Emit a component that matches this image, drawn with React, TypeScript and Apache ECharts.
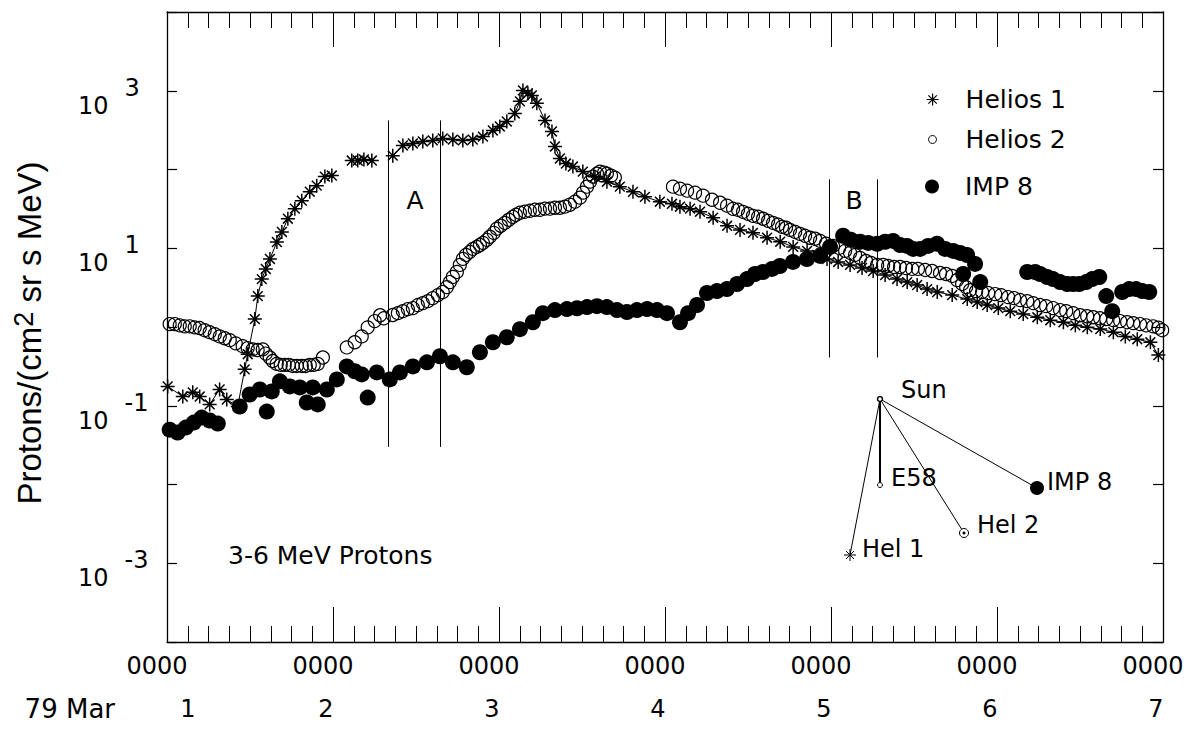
import React, { useEffect, useRef } from 'react';
import * as echarts from 'echarts';

// Days since 79 Mar 1 0000 (x) and proton flux (y)
const helios1Day = [
  1.004, 1.095, 1.155, 1.197, 1.257, 1.317, 1.36, 1.426, 1.468, 1.486, 1.529, 1.547, 1.571, 1.595, 1.62,
  1.662, 1.692, 1.728, 1.77, 1.812, 1.86, 1.902, 1.951, 1.993, 2.05,
  2.113, 2.149, 2.186, 2.234, 2.3,
  2.36, 2.421, 2.481, 2.541, 2.601, 2.661, 2.722, 2.782, 2.842, 2.903, 2.963, 3.005, 3.047, 3.095, 3.126,
  3.144, 3.174, 3.198, 3.228, 3.277, 3.319, 3.337, 3.367, 3.403, 3.445, 3.505, 3.578, 3.65, 3.728, 3.807,
  3.879, 3.969, 4.042, 4.09, 4.151, 4.211, 4.29, 4.374, 4.452, 4.53, 4.615, 4.694, 4.772, 4.856, 4.917,
  4.976, 5.043, 5.115, 5.187, 5.254, 5.326, 5.398, 5.459, 5.519, 5.579, 5.64, 5.73, 5.821, 5.881, 5.941,
  6.008, 6.08, 6.158, 6.243, 6.321, 6.4, 6.472, 6.544, 6.622, 6.701, 6.773, 6.845, 6.924, 6.972,
];
const helios1Flux: (number | null)[] = [
  0.176, 0.131, 0.148, 0.131, 0.104, 0.161, 0.12, 0.098, 0.29, 0.451, 1.26, 2.47, 4.06, 5.46, 7.31,
  12.0, 16.1, 23.7, 31.8, 40.2, 52.2, 62.4, 81.3, 83.8, null,
  130, 130, 134, 130, null,
  150, 202, 214, 227, 234, 248, 240, 234, 240, 262, 313, 352, 407, 515, 733,
  1010, 927, 873, 692, 420, 304, 196, 138, 119, 109, 94, 81, 70, 60.5, 52,
  45, 39, 36.7, 33.7, 31.8, 29.1, 24.4, 19.3, 17.1, 15.7, 13.6, 12.1, 10.4, 9.25, 8.22,
  7.31, 6.7, 6.14, 5.62, 5.14, 4.57, 4.07, 3.72, 3.41, 3.03, 2.78, 2.54, 2.26, 2.07, 1.9,
  1.74, 1.59, 1.46, 1.33, 1.22, 1.15, 1.05, 0.99, 0.94, 0.86, 0.76, 0.7, 0.64, 0.44,
];

const helios2Day = [
  1.016, 1.047, 1.077, 1.107, 1.137, 1.167, 1.197, 1.227, 1.257, 1.288, 1.318, 1.348, 1.378, 1.414, 1.456,
  1.486, 1.516, 1.546, 1.577, 1.595, 1.619, 1.637, 1.661, 1.685, 1.709, 1.733, 1.757, 1.782, 1.812, 1.836,
  1.86, 1.884, 1.908, 1.939,
  2.083, 2.131, 2.173, 2.209, 2.251, 2.284, 2.306, 2.36, 2.391, 2.421, 2.451, 2.481, 2.511, 2.541, 2.571,
  2.601, 2.632, 2.661, 2.686, 2.704, 2.722, 2.746, 2.764, 2.782, 2.801, 2.824, 2.843, 2.866, 2.885, 2.903,
  2.927, 2.945, 2.969, 2.987, 3.011, 3.035, 3.059, 3.083, 3.102, 3.126, 3.156, 3.186, 3.216, 3.246, 3.277,
  3.307, 3.337, 3.367, 3.397, 3.427, 3.458, 3.488, 3.506, 3.53, 3.548, 3.566, 3.59, 3.608, 3.633, 3.65,
  3.675, 3.698,
  4.048, 4.09, 4.133, 4.181, 4.229, 4.283, 4.332, 4.374, 4.41, 4.44, 4.47, 4.5, 4.53, 4.561, 4.591,
  4.621, 4.651, 4.681, 4.705, 4.729, 4.753, 4.784, 4.813, 4.844, 4.874, 4.904, 4.934, 4.97, 5.012, 5.049,
  5.085, 5.115, 5.145, 5.175, 5.211, 5.241, 5.278, 5.314, 5.344, 5.38, 5.416, 5.452, 5.489, 5.524, 5.567,
  5.609, 5.657, 5.693, 5.73, 5.76, 5.79, 5.814, 5.838, 5.874, 5.91, 5.947, 5.989, 6.025, 6.067, 6.103,
  6.139, 6.182, 6.218, 6.26, 6.296, 6.338, 6.38, 6.417, 6.459, 6.501, 6.543, 6.58, 6.621, 6.658, 6.7,
  6.742, 6.784, 6.821, 6.862, 6.899, 6.941, 6.972, 6.995,
];
const helios2Flux = [
  1.09, 1.09, 1.05, 1.02, 1.02, 0.99, 0.97, 0.91, 0.86, 0.81, 0.76, 0.72, 0.68, 0.62, 0.57,
  0.54, 0.52, 0.51, 0.52, 0.46, 0.41, 0.37, 0.34, 0.33, 0.33, 0.33, 0.32, 0.32, 0.32, 0.32,
  0.33, 0.33, 0.34, 0.41,
  0.55, 0.64, 0.76, 0.99, 1.19, 1.41, 1.29, 1.42, 1.5, 1.59, 1.69, 1.74, 1.9, 2.01, 2.13,
  2.33, 2.54, 2.78, 3.21, 3.72, 4.32, 5.0, 6.14, 7.33, 8.22, 9.0, 9.82, 10.4, 11.0, 11.7,
  12.8, 14.0, 15.7, 17.7, 19.3, 21.0, 23.0, 25.1, 26.6, 28.2, 29.1, 29.9, 30.8, 30.8, 31.8,
  31.8, 32.7, 32.7, 33.7, 35.7, 39.0, 43.9, 50.8, 60.5, 70.1, 81.3, 88.7, 94.0, 91.4, 88.7,
  83.6, 78.9,
  60.5, 57.1, 53.8, 50.8, 46.5, 41.3, 37.8, 34.7, 31.7, 30.8, 29.0, 27.4, 25.8, 25.1, 23.7,
  22.3, 21.0, 19.9, 18.7, 18.2, 17.1, 16.1, 15.2, 14.4, 13.6, 13.2, 12.4, 11.4, 10.7, 10.1,
  9.25, 8.71, 8.22, 7.53, 6.89, 6.5, 6.14, 6.14, 5.96, 5.78, 5.78, 5.61, 5.46, 5.46, 5.3,
  5.14, 4.85, 4.71, 4.45, 3.95, 3.52, 3.21, 2.94, 2.86, 2.78, 2.7, 2.62, 2.54, 2.4, 2.33,
  2.2, 2.13, 2.01, 1.9, 1.84, 1.74, 1.64, 1.59, 1.5, 1.41, 1.37, 1.33, 1.29, 1.26, 1.22,
  1.19, 1.15, 1.12, 1.09, 1.05, 1.02, 0.98, 0.91,
];

const imp8Day = [
  1.016, 1.064, 1.113, 1.161, 1.209, 1.257, 1.306, 1.438, 1.498, 1.559, 1.601, 1.631, 1.68, 1.74, 1.8,
  1.842, 1.878, 1.908, 1.963, 2.023, 2.083, 2.131, 2.173, 2.209, 2.264, 2.342, 2.403, 2.481, 2.566, 2.644,
  2.722, 2.806, 2.885, 2.963, 3.047, 3.126, 3.204, 3.264, 3.337, 3.409, 3.47, 3.53, 3.59, 3.65, 3.711,
  3.771, 3.831, 3.892, 3.952, 4.012, 4.09, 4.139, 4.193, 4.253, 4.313, 4.373, 4.434, 4.494, 4.542, 4.59,
  4.645, 4.692, 4.771, 4.855, 4.934, 4.994, 5.073, 5.121, 5.175, 5.224, 5.278, 5.326, 5.374, 5.416, 5.458,
  5.495, 5.537, 5.585, 5.639, 5.687, 5.736, 5.778, 5.82, 5.796, 5.868, 5.899,
  6.182, 6.23, 6.26, 6.302, 6.338, 6.38, 6.423, 6.459, 6.495, 6.537, 6.573, 6.616, 6.658, 6.694, 6.754,
  6.796, 6.838, 6.875, 6.917,
];
const imp8Flux = [
  0.0497, 0.0456, 0.0528, 0.0611, 0.0708, 0.0649, 0.0594, 0.0977, 0.139, 0.161, 0.0843, 0.152, 0.204, 0.176, 0.171,
  0.11, 0.171, 0.104, 0.161, 0.216, 0.316, 0.274, 0.25, 0.127, 0.265, 0.216, 0.265, 0.316, 0.356, 0.425,
  0.356, 0.308, 0.478, 0.64, 0.741, 0.938, 1.15, 1.5, 1.64, 1.69, 1.73, 1.79, 1.84, 1.79, 1.64,
  1.55, 1.64, 1.69, 1.64, 1.5, 1.15, 1.5, 1.9, 2.7, 2.86, 3.03, 3.52, 4.06, 4.71, 5.0,
  5.46, 5.96, 6.7, 7.31, 8.0, 10.4, 14.4, 12.8, 12.1, 11.7, 11.4, 12.1, 12.4, 11.0, 10.7,
  9.8, 9.8, 10.7, 11.4, 9.8, 9.25, 8.73, 8.22, 4.71, 6.32, 3.72,
  5.0, 5.0, 4.71, 4.32, 4.06, 3.72, 3.52, 3.52, 3.52, 3.72, 4.06, 4.32, 2.47, 1.59, 2.78,
  3.03, 3.03, 2.86, 2.78,
];

// Interval markers A and B: [day, flux bottom, flux top]
const intervalLines = [
  [2.332, 0.03, 420],
  [2.648, 0.03, 420],
  [4.99, 0.41, 75],
  [5.276, 0.41, 75],
];
const intervalLabels = [
  [2.495, 40, 'A'],
  [5.139, 40, 'B'],
];

const dayTicks = [1, 2, 3, 4, 5, 6, 7];
const hourLabel = '0000';
const dateLabel = '79 Mar';
const FONT = 'DejaVu Sans';
const STAR = 'path://M10,0L10,20M0,10L20,10M3,3L17,17M3,17L17,3';

export default function App() {
  const ref = useRef<HTMLDivElement>(null);
  useEffect(() => {
    document.body.style.margin = '0';
    const chart = echarts.init(ref.current!, null, { renderer: 'svg' });

    const h1 = helios1Day.map((d, i) => [d, helios1Flux[i] === null ? '-' : helios1Flux[i]]);
    const h2 = helios2Day.map((d, i) => [d, helios2Flux[i]]);
    const i8 = imp8Day.map((d, i) => [d, imp8Flux[i]]);

    const xBase = {
      type: 'value',
      min: dayTicks[0],
      max: dayTicks[dayTicks.length - 1],
      interval: 1,
      splitLine: { show: false },
      axisLine: { show: true, lineStyle: { color: '#000', width: 1.3 } },
      axisTick: { show: true, inside: true, length: 35, lineStyle: { color: '#000', width: 1 } },
      minorTick: { show: true, splitNumber: 8, length: 16, lineStyle: { color: '#000', width: 1 } },
    };
    const yBase = {
      type: 'log',
      logBase: 10,
      min: 1e-4,
      max: 1e4,
      splitNumber: 8,
      splitLine: { show: false },
      axisLine: { show: true, lineStyle: { color: '#000', width: 1.3 } },
      axisTick: { show: true, inside: true, length: 10, lineStyle: { color: '#000', width: 1.2 } },
      minorTick: { show: false },
    };

    const txt = { fontFamily: FONT, fontSize: 24, color: '#000' };

    const option: any = {
      animation: false,
      backgroundColor: '#fff',
      grid: { left: 167, right: 29, top: 12, bottom: 109, containLabel: false, outerBoundsMode: 'none' },
      xAxis: [
        {
          ...xBase,
          position: 'bottom',
          axisLabel: {
            show: true,
            margin: 2,
            hideOverlap: false,
            showMinLabel: true,
            showMaxLabel: true,
            ...txt,
            formatter: (v: number) => {
              const day = Math.round(v);
              if (day === 1) return `{z|${hourLabel}}\n{f|${day}}`;
              return `{z|${hourLabel}}\n{n|${day}}`;
            },
            rich: {
              z: { ...txt, lineHeight: 43, padding: [0, 20, 0, 0] },
              n: { ...txt, lineHeight: 43, padding: [0, 14, 0, 0] },
              f: { ...txt, lineHeight: 43, padding: [0, 0, 0, 42] },
            },
          },
        },
        { ...xBase, position: 'top', axisLabel: { show: false } },
        {
          type: 'value',
          min: dayTicks[0],
          max: dayTicks[dayTicks.length - 1],
          interval: 1,
          position: 'bottom',
          splitLine: { show: false },
          axisLine: { show: false },
          axisTick: { show: false },
          axisLabel: {
            show: true,
            margin: 2,
            align: 'right',
            hideOverlap: false,
            showMinLabel: true,
            ...txt,
            formatter: (v: number) => (Math.round(v) === dayTicks[0] ? `{h| }\n{d|${dateLabel}}` : ''),
            rich: {
              h: { ...txt, lineHeight: 43 },
              d: { ...txt, fontSize: 26, lineHeight: 43, padding: [0, 52, 0, 0] },
            },
          },
        },
      ],
      yAxis: [
        {
          ...yBase,
          position: 'left',
          name: 'Protons/(cm{s|2} sr s MeV)',
          nameLocation: 'middle',
          nameGap: 118,
          nameMoveOverlap: false,
          nameTextStyle: {
            fontFamily: 'Liberation Sans',
            fontSize: 33,
            color: '#000',
            padding: [0, 12, 0, 0],
            rich: { s: { fontFamily: 'Liberation Sans', fontSize: 27, color: '#000', padding: [0, 0, 12, 0] } },
          },
          axisLabel: {
            show: true,
            align: 'left',
            margin: 89,
            showMinLabel: true,
            showMaxLabel: true,
            ...txt,
            formatter: (v: number) => {
              const e = Math.round(Math.log10(v));
              if (Math.abs(e) % 2 !== 1) return '';
              return `{b|10}{e|${e}}`;
            },
            rich: {
              b: { ...txt, padding: [30, 0, 0, 0] },
              e: { ...txt, padding: [12, 0, 18, 16] },
            },
          },
        },
        { ...yBase, position: 'right', axisLabel: { show: false } },
      ],
      legend: [
        {
          data: [{ name: 'Helios 1', icon: STAR }],
          left: 926, top: 87, itemWidth: 12, itemHeight: 12, padding: 0,
          itemStyle: { color: '#000', borderColor: '#000', borderWidth: 1.2 },
          textStyle: { fontFamily: FONT, fontSize: 25, color: '#000', padding: [0, 0, 0, 22] },
        },
        {
          data: [{ name: 'Helios 2', icon: 'circle' }],
          left: 928, top: 127, itemWidth: 8, itemHeight: 8, padding: 0,
          itemStyle: { color: '#fff', borderColor: '#000', borderWidth: 1 },
          textStyle: { fontFamily: FONT, fontSize: 25, color: '#000', padding: [0, 0, 0, 24] },
        },
        {
          data: [{ name: 'IMP 8', icon: 'circle' }],
          left: 925, top: 174, itemWidth: 14, itemHeight: 14, padding: 0,
          itemStyle: { color: '#000', borderWidth: 0, opacity: 1 },
          textStyle: { fontFamily: FONT, fontSize: 25, color: '#000', padding: [0, 0, 0, 21] },
        },
      ],
      series: [
        {
          name: 'Helios 2',
          type: 'scatter',
          data: h2,
          symbol: 'circle',
          symbolSize: 13,
          itemStyle: { color: 'rgba(255,255,255,0)', borderColor: '#000', borderWidth: 1.2, opacity: 1 },
          z: 2,
        },
        {
          name: 'Helios 1',
          type: 'line',
          data: h1,
          symbol: STAR,
          symbolSize: 14,
          showSymbol: true,
          showAllSymbol: true,
          connectNulls: false,
          lineStyle: { color: '#000', width: 1 },
          itemStyle: { color: '#000', borderColor: '#000', borderWidth: 1.5, opacity: 1 },
          z: 3,
        },
        {
          name: 'IMP 8',
          type: 'scatter',
          data: i8,
          symbol: 'circle',
          symbolSize: 16,
          itemStyle: { color: '#000', opacity: 1 },
          z: 4,
        },
        {
          name: 'intervals',
          type: 'scatter',
          data: intervalLabels,
          symbolSize: 1,
          itemStyle: { color: 'rgba(0,0,0,0)', opacity: 1 },
          label: {
            show: true,
            position: 'inside',
            formatter: (p: any) => p.value[2],
            fontFamily: FONT,
            fontSize: 25,
            color: '#000',
          },
          markLine: {
            silent: true,
            symbol: 'none',
            label: { show: false },
            lineStyle: { color: '#000', width: 1, type: 'solid', opacity: 1 },
            data: intervalLines.map((l) => [{ coord: [l[0], l[1]] }, { coord: [l[0], l[2]] }]),
          },
          z: 5,
        },
      ],
      graphic: [
        {
          type: 'text',
          style: { text: '3-6 MeV Protons', x: 228, y: 555, fill: '#000', fontFamily: FONT, fontSize: 25, verticalAlign: 'middle' },
        },
        { type: 'line', shape: { x1: 880, y1: 399, x2: 880, y2: 485 }, style: { stroke: '#000', lineWidth: 2 } },
        { type: 'line', shape: { x1: 880, y1: 399, x2: 850, y2: 555 }, style: { stroke: '#000', lineWidth: 1 } },
        { type: 'line', shape: { x1: 880, y1: 399, x2: 964, y2: 533 }, style: { stroke: '#000', lineWidth: 1 } },
        { type: 'line', shape: { x1: 880, y1: 399, x2: 1037, y2: 488 }, style: { stroke: '#000', lineWidth: 1 } },
        { type: 'circle', shape: { cx: 880, cy: 399, r: 2.5 }, style: { fill: '#fff', stroke: '#000', lineWidth: 1.5 } },
        { type: 'circle', shape: { cx: 880, cy: 485, r: 2.5 }, style: { fill: '#fff', stroke: '#000', lineWidth: 1 } },
        { type: 'circle', shape: { cx: 964, cy: 533, r: 4.5 }, style: { fill: '#fff', stroke: '#000', lineWidth: 1 } },
        { type: 'circle', shape: { cx: 964, cy: 533, r: 1.5 }, style: { fill: '#000' } },
        { type: 'circle', shape: { cx: 1037, cy: 488, r: 7 }, style: { fill: '#000' } },
        { type: 'line', shape: { x1: 850, y1: 549, x2: 850, y2: 561 }, style: { stroke: '#000', lineWidth: 1 } },
        { type: 'line', shape: { x1: 844, y1: 555, x2: 856, y2: 555 }, style: { stroke: '#000', lineWidth: 1 } },
        { type: 'line', shape: { x1: 846, y1: 551, x2: 854, y2: 559 }, style: { stroke: '#000', lineWidth: 1 } },
        { type: 'line', shape: { x1: 846, y1: 559, x2: 854, y2: 551 }, style: { stroke: '#000', lineWidth: 1 } },
        { type: 'text', style: { text: 'Sun', x: 901, y: 390, fill: '#000', fontFamily: FONT, fontSize: 24, verticalAlign: 'middle' } },
        { type: 'text', style: { text: 'E58', x: 891, y: 478, fill: '#000', fontFamily: FONT, fontSize: 24, verticalAlign: 'middle' } },
        { type: 'text', style: { text: 'IMP 8', x: 1047, y: 482, fill: '#000', fontFamily: FONT, fontSize: 24, verticalAlign: 'middle' } },
        { type: 'text', style: { text: 'Hel 2', x: 977, y: 525, fill: '#000', fontFamily: FONT, fontSize: 24, verticalAlign: 'middle' } },
        { type: 'text', style: { text: 'Hel 1', x: 862, y: 549, fill: '#000', fontFamily: FONT, fontSize: 24, verticalAlign: 'middle' } },
      ],
    };

    chart.setOption(option);
    return () => chart.dispose();
  }, []);

  return <div ref={ref} style={{ width: 1192, height: 751, position: 'absolute', left: 0, top: 0 }} />;
}
